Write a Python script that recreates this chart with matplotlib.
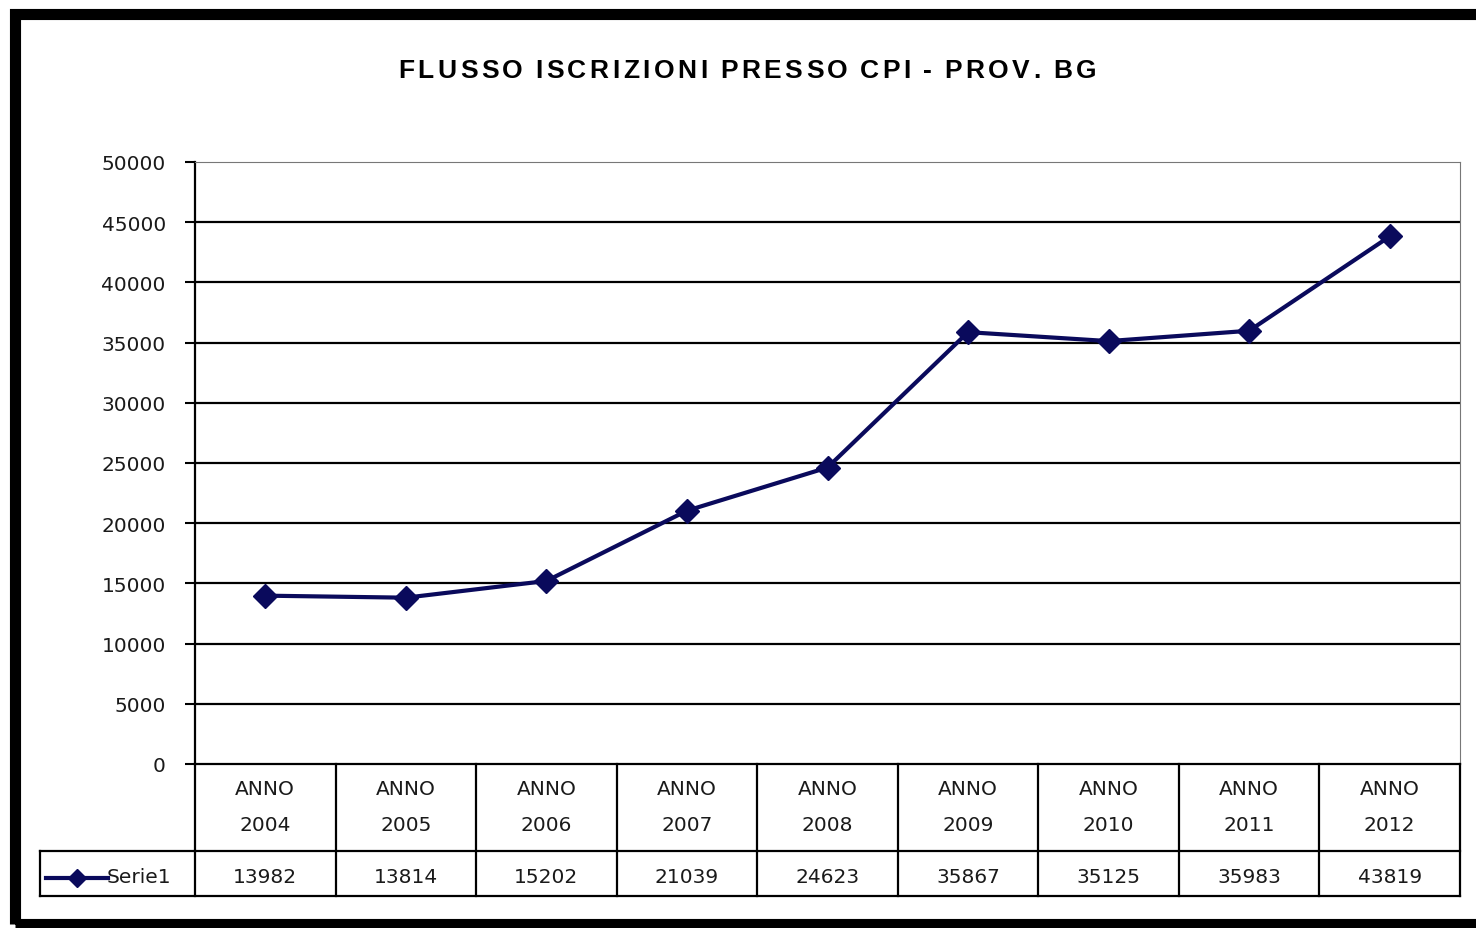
import matplotlib
matplotlib.use("Agg")
import matplotlib.pyplot as plt
from matplotlib.patches import Rectangle
from matplotlib.lines import Line2D

anni = ["2004", "2005", "2006", "2007", "2008", "2009", "2010", "2011", "2012"]
iscrizioni = [13982, 13814, 15202, 21039, 24623, 35867, 35125, 35983, 43819]
serie = "Serie1"
titolo = "FLUSSO ISCRIZIONI PRESSO CPI - PROV. BG"
yticks = [0, 5000, 10000, 15000, 20000, 25000, 30000, 35000, 40000, 45000, 50000]

W, H = 1476, 929
navy = "#0a0a5c"
txt = "#1a1a1a"
fnt = "DejaVu Sans"

fig = plt.figure(figsize=(W / 100, H / 100), dpi=100)
fig.patch.set_facecolor("white")

# cornice nera intorno al grafico
fig.add_artist(Rectangle((15 / W, 4 / H), 1.2, (H - 4 - 14.5) / H, transform=fig.transFigure,
                         fill=False, edgecolor="black", linewidth=8))

ax = fig.add_axes([195 / W, 164 / H, 1265 / W, 602 / H])
x = list(range(len(anni)))
ax.plot(x, iscrizioni, color=navy, linewidth=3, marker="D", markersize=12,
        markerfacecolor=navy, markeredgecolor=navy)
ax.set_xlim(-0.5, len(anni) - 0.5)
ax.set_ylim(0, 50000)
ax.set_yticks(yticks)
ax.set_yticklabels([str(v) for v in yticks], fontsize=14.5, family=fnt, color=txt)
ax.tick_params(axis="y", length=7, width=1.5, pad=14, direction="out")
ax.set_xticks([])
for v in yticks[1:-1]:
    ax.axhline(v, color="black", linewidth=1.6, zorder=1)
ax.spines["top"].set_color("#777777")
ax.spines["right"].set_color("#777777")
ax.spines["left"].set_linewidth(1.6)
ax.spines["bottom"].set_linewidth(1.6)

# titolo con lettere leggermente spaziate come nell'originale
fig.canvas.draw()
r = fig.canvas.get_renderer()
tsize = 19
tfont = dict(fontsize=tsize, fontweight="bold", family="Liberation Sans")
larghezze = []
for ch in titolo:
    if ch == " ":
        larghezze.append(tsize * 0.2 * 100 / 72)
    else:
        tc = fig.text(0, 0, ch, **tfont)
        larghezze.append(tc.get_window_extent(r).width)
        tc.remove()
extra = (698 - sum(larghezze)) / (len(titolo) - 1)
xc = 398
for ch, w in zip(titolo, larghezze):
    if ch != " ":
        fig.text(xc / W, 1 - 71 / H, ch, ha="left", va="center", **tfont)
    xc += w + extra

# tabella dati sotto l'asse
tr = ax.transAxes
y_head = (765 - 852) / 602
y_data = (765 - 897) / 602
x_left = (40 - 195) / 1265
n = len(anni)
lk = dict(color="black", linewidth=1.6, transform=tr, clip_on=False)
ax.add_line(Line2D([0, 1], [y_head, y_head], **lk))
ax.add_line(Line2D([x_left, 1], [y_data, y_data], **lk))
ax.add_line(Line2D([x_left, 0], [y_head, y_head], **lk))
ax.add_line(Line2D([x_left, x_left], [y_head, y_data], **lk))
for i in range(n + 1):
    ax.add_line(Line2D([i / n, i / n], [0, y_data], **lk))
for i, (a, v) in enumerate(zip(anni, iscrizioni)):
    cx = (i + 0.5) / n
    ax.text(cx, (765 - 790) / 602, "ANNO", transform=tr, ha="center", va="center",
            fontsize=14.5, family=fnt, color=txt)
    ax.text(cx, (765 - 826) / 602, a, transform=tr, ha="center", va="center",
            fontsize=14.5, family=fnt, color=txt)
    ax.text(cx, (765 - 878) / 602, str(v), transform=tr, ha="center", va="center",
            fontsize=14.5, family=fnt, color=txt)

# legenda nella tabella
ax.add_line(Line2D([(46 - 195) / 1265, (108 - 195) / 1265], [(765 - 879) / 602] * 2,
                   color=navy, linewidth=3, transform=tr, clip_on=False))
ax.add_line(Line2D([(77 - 195) / 1265], [(765 - 879) / 602], color=navy, marker="D",
                   markersize=9, transform=tr, clip_on=False))
ax.text((107 - 195) / 1265, (765 - 878) / 602, serie, transform=tr, ha="left", va="center",
        fontsize=14.5, family=fnt, color=txt)

fig.savefig("out.png", dpi=100)
